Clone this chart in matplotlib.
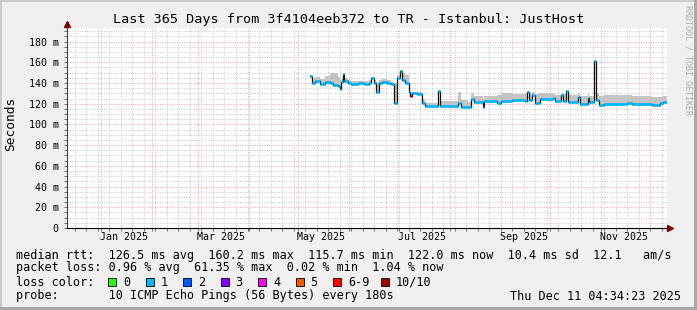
import numpy as np
import pandas as pd
import matplotlib
matplotlib.use("Agg")
import matplotlib.pyplot as plt
import matplotlib.dates as mdates
from matplotlib.patches import Rectangle

plt.rcParams['font.family'] = 'DejaVu Sans Mono'

W, H = 697, 310
t_start = pd.Timestamp('2024-12-11 04:34:23')
t_end = pd.Timestamp('2025-12-11 04:34:23')

# median rtt (ms), step changes
sample_dates = ['2025-05-08', '2025-05-09', '2025-05-11', '2025-05-14', '2025-05-17',
                '2025-05-20', '2025-05-22', '2025-05-25', '2025-05-26', '2025-05-27',
                '2025-05-28', '2025-05-29', '2025-05-31', '2025-06-02', '2025-06-06',
                '2025-06-10', '2025-06-13', '2025-06-14', '2025-06-16', '2025-06-17',
                '2025-06-19', '2025-06-21', '2025-06-24', '2025-06-26', '2025-06-28',
                '2025-06-30', '2025-07-02', '2025-07-03', '2025-07-05', '2025-07-07',
                '2025-07-08', '2025-07-09', '2025-07-12', '2025-07-15', '2025-07-17',
                '2025-07-25', '2025-07-26', '2025-08-06', '2025-08-08', '2025-08-12',
                '2025-08-14', '2025-08-16', '2025-08-21', '2025-08-22', '2025-08-30',
                '2025-09-01', '2025-09-08', '2025-09-16', '2025-09-17', '2025-09-18',
                '2025-09-20', '2025-09-22', '2025-09-25', '2025-10-03', '2025-10-04',
                '2025-10-08', '2025-10-09', '2025-10-11', '2025-10-12', '2025-10-18',
                '2025-10-19', '2025-10-24', '2025-10-25', '2025-10-28', '2025-10-29',
                '2025-10-31', '2025-11-03', '2025-11-17', '2025-11-20', '2025-12-02',
                '2025-12-07', '2025-12-09']
median_ms = [147, 140, 142, 139.5, 141,
             140, 138, 137, 134, 141,
             149, 142, 140, 139.5, 140,
             139, 140, 145, 140, 131,
             140, 141, 140, 139, 121,
             145, 152, 143, 140, 131,
             127, 130, 129, 121, 118,
             132.7, 118, 121, 117, 116.5,
             125, 122, 117, 123, 121,
             123, 124, 123, 131, 124,
             128, 121, 125, 125.5, 123,
             128.5, 123, 132, 122, 126.5,
             120, 125.6, 122, 161.3, 124,
             119, 119.5, 120.6, 119.6, 119,
             120.6, 122]
smoke_hi_ms = [148, 145, 146, 144, 147,
               150, 150, 146, 143, 144,
               149, 145, 143, 142, 142,
               142, 143, 146, 143, 141,
               143, 144, 143, 141, 140,
               148, 153, 150, 148, 138,
               131, 131, 131, 125, 121,
               133, 123, 131, 124, 122,
               130, 127, 125, 127, 128,
               130, 129, 130, 132, 130,
               131, 129, 130, 129, 128,
               130, 129, 133, 128, 130,
               127, 129, 127, 162, 130,
               127, 128, 128, 127, 126,
               126, 127]
loss_count = [1] * 30 + [6] + [1] * 41

loss_labels = ['0', '1', '2', '3', '4', '5', '6-9', '10/10']
loss_colors = ['#26ff00', '#00b8ff', '#0059ff', '#7e00ff', '#ff00f0',
               '#ff5500', '#ff0000', '#a10000']

month_starts = pd.date_range('2025-01-01', '2025-12-01', freq='MS')
label_months = ['Jan 2025', 'Mar 2025', 'May 2025', 'Jul 2025', 'Sep 2025', 'Nov 2025']
label_dates = ['2025-01-15', '2025-03-15', '2025-05-15', '2025-07-15', '2025-09-15', '2025-11-15']
mondays = pd.date_range('2024-12-16', '2025-12-08', freq='7D')


def loss_color(n):
    if n == 0:
        return loss_colors[0]
    if n <= 5:
        return loss_colors[n]
    if n < 10:
        return loss_colors[6]
    return loss_colors[7]


fig = plt.figure(figsize=(W / 100, H / 100), dpi=100, facecolor='#f0f0f0')
ax = fig.add_axes([67 / W, (H - 228) / H, 600 / W, 200 / H])
ax.set_facecolor('white')

# data
t = pd.to_datetime(sample_dates)
edges = list(t) + [t_end]
med_ext = median_ms + [median_ms[-1]]
hi_ext = smoke_hi_ms + [smoke_hi_ms[-1]]
ax.fill_between(edges, med_ext, hi_ext, step='post', color='#c4c4c4', lw=0, zorder=2)
ax.step(edges, med_ext, where='post', color='#111111', lw=0.9, zorder=3)
for i in range(len(median_ms)):
    ax.hlines(median_ms[i], edges[i], edges[i + 1], color=loss_color(loss_count[i]),
              lw=1.9, zorder=4)

# axes and grid
ax.set_xlim(t_start, t_end)
ax.set_ylim(0, 193.1)
ax.set_xticks(month_starts)
ax.set_xticks(mondays, minor=True)
ax.set_xticklabels([])
ax.set_yticks(np.arange(0, 181, 20))
ax.set_yticks(np.arange(0, 191, 5), minor=True)
ax.set_yticklabels(['0'] + ['%d m' % v for v in range(20, 181, 20)], fontsize=7.2)
ax.grid(which='minor', color='#c8c8c8', lw=0.7, linestyle=(0, (1, 1.5)))
ax.grid(which='major', color='#f2a0a0', lw=0.7, linestyle=(0, (1, 1.5)))
ax.set_axisbelow(True)
ax.tick_params(axis='y', which='both', length=2, width=0.6, pad=4, color='#555555')
ax.tick_params(axis='x', which='both', length=2, width=0.6, color='#555555')
for s in ['top', 'right']:
    ax.spines[s].set_visible(False)
ax.spines['left'].set_color('#404040')
ax.spines['bottom'].set_color('#000000')
ax.spines['left'].set_linewidth(0.8)
ax.spines['bottom'].set_linewidth(0.8)
ax.plot([0, 0], [1, 1.02], transform=ax.transAxes, color='#404040', lw=0.8, clip_on=False)
ax.plot([1, 1.004], [0, 0], transform=ax.transAxes, color='#000000', lw=0.8, clip_on=False)
ax.plot([0], [1.022], marker='^', ms=4, color='#7f0000', transform=ax.transAxes, clip_on=False)
ax.plot([1.005], [0], marker='>', ms=4, color='#7f0000', transform=ax.transAxes, clip_on=False)

for d, lab in zip(label_dates, label_months):
    ax.text(pd.Timestamp(d), -0.045, lab, transform=ax.get_xaxis_transform(),
            ha='center', va='center', fontsize=7.2)

# texts
def px(x, y):
    return x / W, 1 - y / H

fig.text(*px(348.5, 19), 'Last 365 Days from 3f4104eeb372 to TR - Istanbul: JustHost',
         ha='center', va='center', fontsize=9.7)
fig.text(*px(11, 124), 'Seconds', rotation=90, ha='center', va='center', fontsize=9.3)
fig.text(*px(688, 5), 'RRDTOOL / TOBI OETIKER', rotation=270, ha='center', va='top',
         fontsize=6, color='#aaaaaa')

fs = 8.5
fig.text(*px(16, 255), 'median rtt:  126.5 ms avg  160.2 ms max  115.7 ms min  '
         '122.0 ms now  10.4 ms sd  12.1   am/s', ha='left', va='center', fontsize=fs)
fig.text(*px(16, 268), 'packet loss: 0.96 % avg  61.35 % max  0.02 % min  1.04 % now',
         ha='left', va='center', fontsize=fs)
fig.text(*px(16, 282), 'loss color:', ha='left', va='center', fontsize=fs)
box_x = [108, 145.5, 183, 220.5, 258, 295.5, 333, 381]
for bx, lab, col in zip(box_x, loss_labels, loss_colors):
    fig.patches.append(Rectangle(px(bx, 286), 8 / W, 8 / H, transform=fig.transFigure,
                                 facecolor=col, edgecolor='black', lw=0.6))
    fig.text(*px(bx + 15, 282), lab, ha='left', va='center', fontsize=fs)
fig.text(*px(16, 296), 'probe:       10 ICMP Echo Pings (56 Bytes) every 180s',
         ha='left', va='center', fontsize=fs)
fig.text(*px(681, 296), 'Thu Dec 11 04:34:23 2025', ha='right', va='center', fontsize=fs)

# image frame shading
fig.patches.append(Rectangle((0, 1 - 2 / H), 1, 2 / H, transform=fig.transFigure,
                             facecolor='#cbcbcb', lw=0))
fig.patches.append(Rectangle((0, 0), 2 / W, 1, transform=fig.transFigure,
                             facecolor='#cbcbcb', lw=0))
fig.patches.append(Rectangle((0, 0), 1, 3 / H, transform=fig.transFigure,
                             facecolor='#a8a8a8', lw=0))
fig.patches.append(Rectangle((1 - 3 / W, 0), 3 / W, 1, transform=fig.transFigure,
                             facecolor='#a8a8a8', lw=0))

fig.savefig('out.png', dpi=100, facecolor=fig.get_facecolor())
